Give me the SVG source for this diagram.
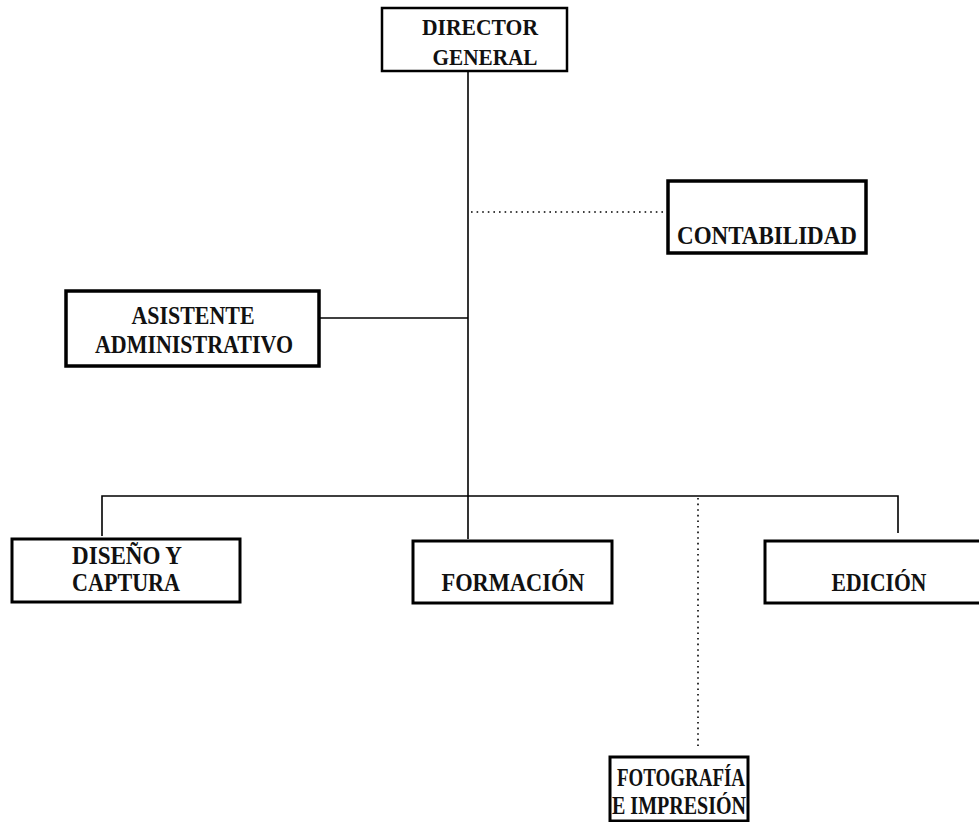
<svg xmlns="http://www.w3.org/2000/svg" width="979" height="822" viewBox="0 0 979 822">
<style>
.box{fill:#fff;stroke:#000;stroke-width:3}
.t{font-family:"Liberation Serif","Times New Roman",serif;font-weight:bold;font-size:26px;fill:#111;text-anchor:middle}
.ln{stroke:#000;stroke-width:1.6;fill:none}
.dot{stroke:#000;stroke-width:1.6;fill:none;stroke-dasharray:1.6 4}
</style>
<rect width="979" height="822" fill="#fff"/>
<g id="connectors">
<line class="ln" x1="468" y1="71" x2="468" y2="539"/>
<line class="dot" x1="471" y1="212" x2="665" y2="212"/>
<line class="ln" x1="319" y1="318" x2="468" y2="318"/>
<polyline class="ln" points="102,536 102,496 898,496 898,533"/>
<line class="dot" x1="698" y1="498" x2="698" y2="746"/>
</g>
<g id="director">
<rect class="box" x="382" y="8" width="185" height="63" style="stroke-width:2.5"/>
<text class="t" x="480" y="35" textLength="116" lengthAdjust="spacingAndGlyphs" style="font-size:24px">DIRECTOR</text>
<text class="t" x="485" y="65" textLength="105" lengthAdjust="spacingAndGlyphs" style="font-size:24px">GENERAL</text>
</g>
<g id="contabilidad">
<rect class="box" x="668" y="181" width="198" height="72" style="stroke-width:3.5"/>
<text class="t" x="767" y="244" textLength="180" lengthAdjust="spacingAndGlyphs">CONTABILIDAD</text>
</g>
<g id="asistente">
<rect class="box" x="66" y="291" width="253" height="75" style="stroke-width:3.5"/>
<text class="t" x="193" y="324" textLength="123" lengthAdjust="spacingAndGlyphs">ASISTENTE</text>
<text class="t" x="194" y="353" textLength="198" lengthAdjust="spacingAndGlyphs">ADMINISTRATIVO</text>
</g>
<g id="diseno">
<rect class="box" x="12" y="539" width="228" height="63"/>
<text class="t" x="127" y="564" textLength="110" lengthAdjust="spacingAndGlyphs">DISEÑO Y</text>
<text class="t" x="126" y="591" textLength="108" lengthAdjust="spacingAndGlyphs">CAPTURA</text>
</g>
<g id="formacion">
<rect class="box" x="413" y="541" width="199" height="62"/>
<text class="t" x="513" y="591" textLength="143" lengthAdjust="spacingAndGlyphs">FORMACIÓN</text>
</g>
<g id="edicion">
<rect class="box" x="765" y="541" width="230" height="62"/>
<text class="t" x="879" y="591" textLength="95" lengthAdjust="spacingAndGlyphs">EDICIÓN</text>
</g>
<g id="fotografia">
<rect class="box" x="610" y="757" width="138" height="64"/>
<text class="t" x="681" y="786" textLength="128" lengthAdjust="spacingAndGlyphs" style="font-size:25px">FOTOGRAFÍA</text>
<text class="t" x="679" y="814" textLength="134" lengthAdjust="spacingAndGlyphs" style="font-size:25px">E IMPRESIÓN</text>
</g>
</svg>
